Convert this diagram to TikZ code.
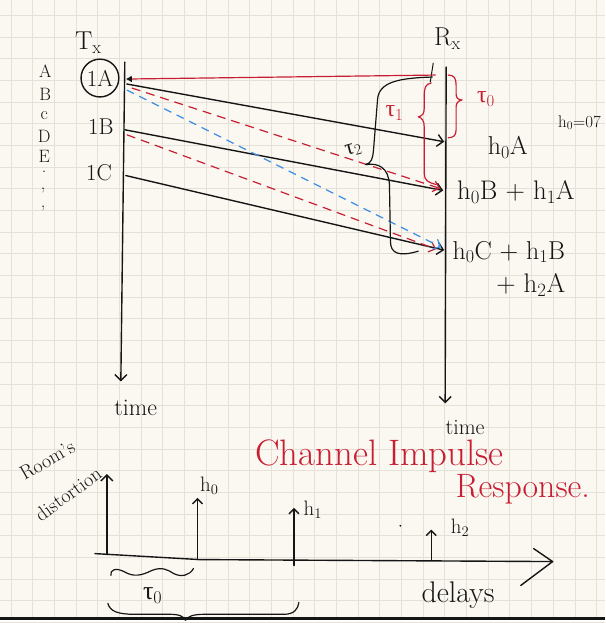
\documentclass[tikz,border=0pt]{standalone}
\usepackage{fontspec}
\newfontfamily\greekf{Liberation Serif}
\usetikzlibrary{arrows.meta,decorations.pathreplacing}
\definecolor{paper}{HTML}{FAF8F1}
\definecolor{gridc}{HTML}{E5E1D8}
\definecolor{ink}{HTML}{151515}
\definecolor{redpen}{HTML}{C81E32}
\definecolor{bluepen}{HTML}{3A8EE6}
\newcommand{\fsz}[1]{\fontsize{#1}{#1}\selectfont}
\newcommand{\tauof}[1]{{\greekf τ}\textsubscript{#1}}
\begin{document}
\begin{tikzpicture}[x=1pt,y=-1pt,
  inkline/.style={ink,line width=1.4pt,line cap=round,line join=round},
  redline/.style={redpen,line width=1.2pt,line cap=round,line join=round},
  barb/.style={-{Straight Barb[length=6pt,width=12pt]}},
  reddash/.style={redpen,line width=1.2pt,dash pattern=on 9pt off 6pt},
  bluedash/.style={bluepen,line width=1.2pt,dash pattern=on 8pt off 6pt},
  lbl/.style={inner sep=0pt,text=ink},
  rlbl/.style={inner sep=0pt,text=redpen}]
% paper
\fill[paper] (0,0) rectangle (608,623);
\foreach \i in {0,...,27}{\draw[gridc,line width=0.9pt] ({10.7+21.8*\i},0) -- ({10.7+21.8*\i},623);}
\foreach \j in {0,...,28}{\draw[gridc,line width=0.9pt] (0,{14.9+21.8*\j}) -- (608,{14.9+21.8*\j});}
\fill[ink] (0,619.5) rectangle (608,623);
\useasboundingbox (0,0) rectangle (608,623);

% headers
\node[lbl,font=\fsz{26}] (tx) at (88,42) {T\raisebox{-4pt}{\fsz{18}x}};
\node[lbl,font=\fsz{26}] (rx) at (449,38) {R\raisebox{-4pt}{\fsz{18}x}};

% letter column
\node[lbl,font=\fsz{18}] (la) at (45,71) {A};
\node[lbl,font=\fsz{18}] (lb) at (45,94) {B};
\node[lbl,font=\fsz{18}] (lc) at (44,116) {c};
\node[lbl,font=\fsz{18}] (ld) at (44,137) {D};
\node[lbl,font=\fsz{18}] (le) at (44,157) {E};
\node[lbl,font=\fsz{18}] (l1) at (44,172) {.};
\node[lbl,font=\fsz{18}] (l2) at (43,191) {,};
\node[lbl,font=\fsz{18}] (l3) at (43,209) {,};

% symbols at Tx
\node[lbl,font=\fsz{23}] (s1a) at (100,78) {1A};
\draw[inkline] (s1a) ellipse (19pt and 19pt);
\node[lbl,font=\fsz{23}] (s1b) at (101,127) {1B};
\node[lbl,font=\fsz{23}] (s1c) at (99,173) {1C};

% time axes
\coordinate (txtop) at (125,62);
\coordinate (txbot) at (121,383);
\coordinate (rxtop) at (448,67);
\coordinate (rxbot) at (447,405);
\draw[inkline,barb] (txtop) -- (txbot);
\draw[inkline,barb] (rxtop) -- (rxbot);
\node[lbl,font=\fsz{24}] (time1) at (136,410) {time};
\node[lbl,font=\fsz{22}] (time2) at (467,429) {time};
\coordinate (tick1) at (435,63);
\coordinate (tick2) at (432,82);
\draw[inkline,line width=1pt] (tick1) -- (tick2);

% red feedback line
\coordinate (rs) at (437,75);
\coordinate (re) at (126,79);
\draw[redline,-{Latex[length=6pt,width=7pt,color=ink]}] (rs) -- (re);

% direct paths
\coordinate (a1s) at (127,84);  \coordinate (a1e) at (446,142);
\coordinate (a2s) at (125,130); \coordinate (a2e) at (445,191);
\coordinate (a3s) at (126,176); \coordinate (a3e) at (446,251);
\draw[inkline,barb] (a1s) -- (a1e);
\draw[inkline,barb] (a2s) -- (a2e);
\draw[inkline,barb] (a3s) -- (a3e);

% echoes
\coordinate (r1s) at (132,88);  \coordinate (r1e) at (442,189);
\coordinate (r2s) at (127,135); \coordinate (r2e) at (438,250);
\coordinate (b1s) at (127,90);  \coordinate (b1e) at (443,248);
\draw[reddash,-{Straight Barb[length=6pt,width=11pt]}] (r1s) -- (r1e);
\draw[reddash,-{Straight Barb[length=6pt,width=11pt]}] (r2s) -- (r2e);
\draw[bluedash,-{Straight Barb[length=6pt,width=11pt]}] (b1s) -- (b1e);

% tau0 brace (red)
\draw[redline] (450,75) .. controls (456,75) and (458,78) .. (458,85) -- (458,94)
  .. controls (458,98) and (460,100) .. (464,100) .. controls (460,101) and (458,103) .. (458,107)
  -- (458,130) .. controls (458,136) and (455,138) .. (450,138);
\node[rlbl,font=\fsz{24}] (tau0) at (488,99) {\tauof{0}};

% tau1 brace (red)
\draw[redline] (433,83) .. controls (427,84) and (426,88) .. (426,96) -- (426,108)
  .. controls (426,114) and (424,116) .. (420,117) .. controls (424,118) and (426,121) .. (426,128)
  -- (426,174) .. controls (426,181) and (430,183) .. (438,185);
\node[rlbl,font=\fsz{24}] (tau1) at (396,113) {\tauof{1}};

% tau2 brace (black)
\draw[inkline,line width=1.2pt] (434,77) .. controls (400,78) and (380,82) .. (379,100) -- (375,150)
  .. controls (374,160) and (373,163) .. (367,165) .. controls (380,163) and (390,168) .. (391,185)
  -- (392,242) .. controls (392,254) and (400,258) .. (420,252);
\node[lbl,font=\fsz{22},rotate=15] (tau2) at (355,150) {\tauof{2}};

% received sums
\node[lbl,font=\fsz{26}] (y0) at (510,148) {h\textsubscript{0}A};
\node[lbl,font=\fsz{27}] (y1) at (518,193) {h\textsubscript{0}B + h\textsubscript{1}A};
\node[lbl,font=\fsz{26}] (y2) at (511,253) {h\textsubscript{0}C + h\textsubscript{1}B};
\node[lbl,font=\fsz{27}] (y3) at (533,286) {+ h\textsubscript{2}A};
\node[lbl,font=\fsz{17}] (h0v) at (582,123) {h\textsubscript{0}=07};

% impulse response
\coordinate (ax0) at (95,556);
\coordinate (axm) at (200,562);
\coordinate (ax1) at (555,564);
\draw[inkline] (ax0) -- (axm) -- (ax1);
\draw[inkline] (536,551) -- (ax1) -- (523,588);
\coordinate (v0) at (107,557); \coordinate (v1) at (107,476);
\draw[inkline,barb] (v0) -- (v1);
\node[lbl,font=\fsz{20},rotate=30] (room) at (47,462) {Room's};
\node[lbl,font=\fsz{20},rotate=36] (dist) at (68,496) {distortion};
\coordinate (h0b) at (198,562); \coordinate (h0t) at (198,500);
\coordinate (h1b) at (295,568); \coordinate (h1t) at (295,510);
\coordinate (h2b) at (433,562); \coordinate (h2t) at (433,532);
\draw[inkline,-{Straight Barb[length=5pt,width=10pt]}] (h0b) -- (h0t);
\draw[inkline,-{Straight Barb[length=5pt,width=10pt]}] (h1b) -- (h1t);
\draw[inkline,-{Straight Barb[length=5pt,width=10pt]}] (h2b) -- (h2t);
\node[lbl,font=\fsz{21}] (lh0) at (210,488) {h\textsubscript{0}};
\node[lbl,font=\fsz{21}] (lh1) at (314,512) {h\textsubscript{1}};
\node[lbl,font=\fsz{21}] (lh2) at (462,530) {h\textsubscript{2}};
\fill[ink] (402,528) circle (1pt);
\node[lbl,font=\fsz{30}] (dl) at (460,598) {delays};
\node[rlbl,font=\fsz{37}] (cir1) at (381,458) {Channel Impulse};
\node[rlbl,font=\fsz{34}] (cir2) at (525,491) {Response.};

% braces under axis
\draw[inkline,line width=1.2pt] (111,578) .. controls (110,572) and (116,570) .. (124,574)
  .. controls (134,580) and (142,578) .. (152,573) .. controls (162,569) and (168,572) .. (174,576)
  .. controls (182,580) and (190,578) .. (194,571);
\node[lbl,font=\fsz{26}] (tau0b) at (153,598) {\tauof{0}};
\draw[inkline,line width=1.2pt] (108,606) .. controls (110,614) and (118,617) .. (135,617)
  -- (170,617) .. controls (180,617) and (184,619) .. (186,623) .. controls (188,619) and (194,617) .. (205,617)
  -- (285,617) .. controls (295,617) and (299,612) .. (300,605);
\end{tikzpicture}
\end{document}
